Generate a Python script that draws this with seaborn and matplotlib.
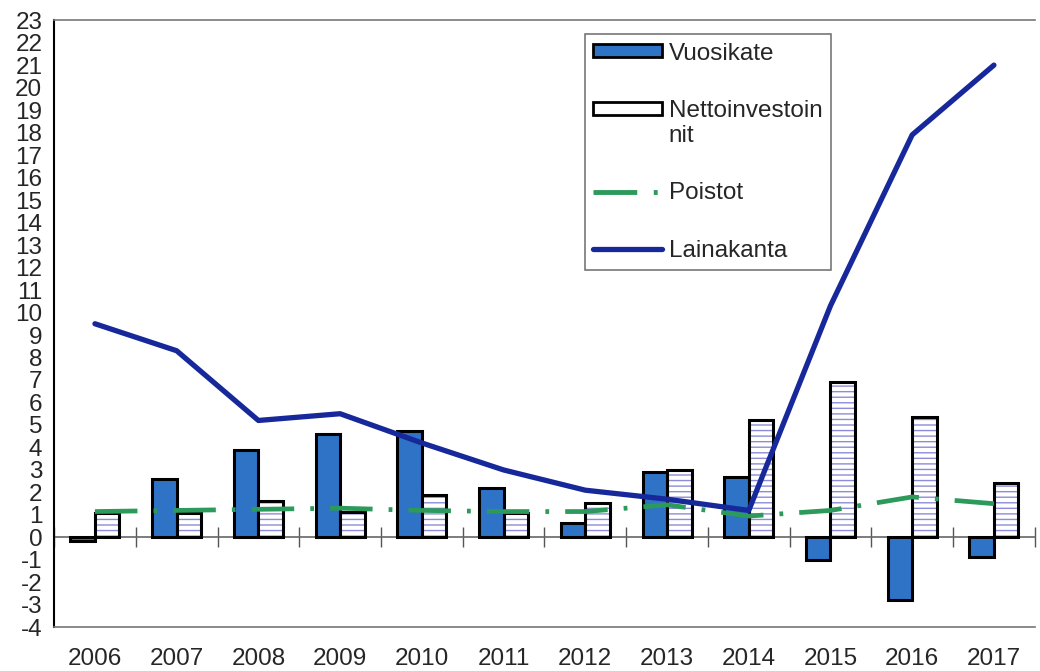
import numpy as np
import pandas as pd
import matplotlib
matplotlib.use('Agg')
import matplotlib.pyplot as plt
import seaborn as sns
from matplotlib.patches import Patch, Rectangle
from matplotlib.lines import Line2D
from matplotlib.colors import to_rgba
from matplotlib.legend_handler import HandlerPatch

# Data
years = ['2006', '2007', '2008', '2009', '2010', '2011',
         '2012', '2013', '2014', '2015', '2016', '2017']
vuosikate = [-0.15, 2.6, 3.9, 4.6, 4.75, 2.2, 0.65, 2.9, 2.7, -1.0, -2.8, -0.85]
nettoinv = [1.1, 1.1, 1.6, 1.15, 1.9, 1.1, 1.55, 3.0, 5.2, 6.9, 5.35, 2.4]
poistot = [1.15, 1.2, 1.25, 1.3, 1.2, 1.15, 1.15, 1.45, 0.95, 1.2, 1.8, 1.5]
lainakanta = [9.5, 8.3, 5.2, 5.5, 4.2, 3.0, 2.1, 1.7, 1.2, 10.3, 17.9, 21.0]

series_names = ['Vuosikate', 'Nettoinvestoinnit']
bar_colors = ['#2f73c6', '#ffffff']
green = '#2b9a5a'
navy = '#17299a'
hatch_col = '#8c8cd8'
dashdot = (0, (9.0, 3.4, 0.8, 3.4))

sns.set_style('white')
plt.rcParams['font.family'] = ['Liberation Sans', 'DejaVu Sans']
plt.rcParams['hatch.linewidth'] = 1.0
plt.rcParams['axes.unicode_minus'] = False

df = pd.DataFrame({
    'Vuosi': years * 2,
    'Arvo': vuosikate + nettoinv,
    'Sarja': [series_names[0]] * len(years) + [series_names[1]] * len(years),
})

fig = plt.figure(figsize=(10.4, 6.71), dpi=100)
ax = fig.add_axes([0.052, 0.065, 0.943, 0.905])

sns.barplot(data=df, x='Vuosi', y='Arvo', hue='Sarja', hue_order=series_names,
            palette=bar_colors, width=0.6, edgecolor='black', linewidth=2.2,
            saturation=1, ax=ax, legend=False)

# hatch the Nettoinvestoinnit bars (second hue container)
for bar in ax.containers[1]:
    bar.set_hatch('---')
    bar._hatch_color = to_rgba(hatch_col)

x = np.arange(len(years))
sns.lineplot(x=x, y=poistot, color=green, linewidth=3.4, ax=ax, zorder=4)
ax.lines[-1].set_linestyle(dashdot)
ax.lines[-1].set_dash_capstyle('butt')
sns.lineplot(x=x, y=lainakanta, color=navy, linewidth=3.8, ax=ax, zorder=5)
ax.lines[-1].set_solid_capstyle('round')

ax.set_xlim(-0.5, len(years) - 0.5)
ax.set_ylim(-4, 23)
ax.set_yticks(range(-4, 24))
ax.set_xlabel('')
ax.set_ylabel('')
ax.tick_params(axis='y', direction='inout', length=9, width=1, labelsize=17.5, pad=4)
ax.tick_params(axis='x', length=0, labelsize=17.5, pad=15)

for side in ['top', 'bottom', 'right']:
    ax.spines[side].set_color('#777777')
    ax.spines[side].set_linewidth(1.2)
ax.spines['right'].set_visible(False)
ax.spines['left'].set_color('black')
ax.spines['left'].set_linewidth(1.5)

# zero line with category separator ticks
zero_pos = (0 - (-4)) / (23 - (-4))
sec = ax.secondary_xaxis(zero_pos)
sec.set_xticks(np.arange(len(years) + 1) - 0.5)
sec.set_xticklabels([])
sec.tick_params(direction='inout', length=15, width=1, color='#555555')
sec.spines['bottom'].set_color('#666666')
sec.spines['bottom'].set_linewidth(1.2)


# legend handle aligned with the first line of a two-line label
def top_patch(legend, orig_handle, xdescent, ydescent, width, height, fontsize):
    return Rectangle((-xdescent, -ydescent + 0.6 * fontsize), width, height)


handles = [
    Patch(facecolor=bar_colors[0], edgecolor='black', linewidth=2),
    Patch(facecolor='white', edgecolor='black', linewidth=2),
    Line2D([], [], color=green, linewidth=3.5, linestyle=dashdot),
    Line2D([], [], color=navy, linewidth=3.8),
]
labels = ['Vuosikate', 'Nettoinvestoin\nnit', 'Poistot', 'Lainakanta']
leg = ax.legend(handles, labels, loc='upper left', bbox_to_anchor=(0.541, 0.977),
                fontsize=17.5, frameon=True, fancybox=False, handlelength=2.85,
                handleheight=0.45, handletextpad=0.25, labelspacing=1.45,
                borderpad=0.35, borderaxespad=0,
                handler_map={handles[1]: HandlerPatch(patch_func=top_patch)})
leg.get_frame().set_edgecolor('#555555')
leg.get_frame().set_linewidth(1.2)

fig.savefig('out.png', dpi=100)
